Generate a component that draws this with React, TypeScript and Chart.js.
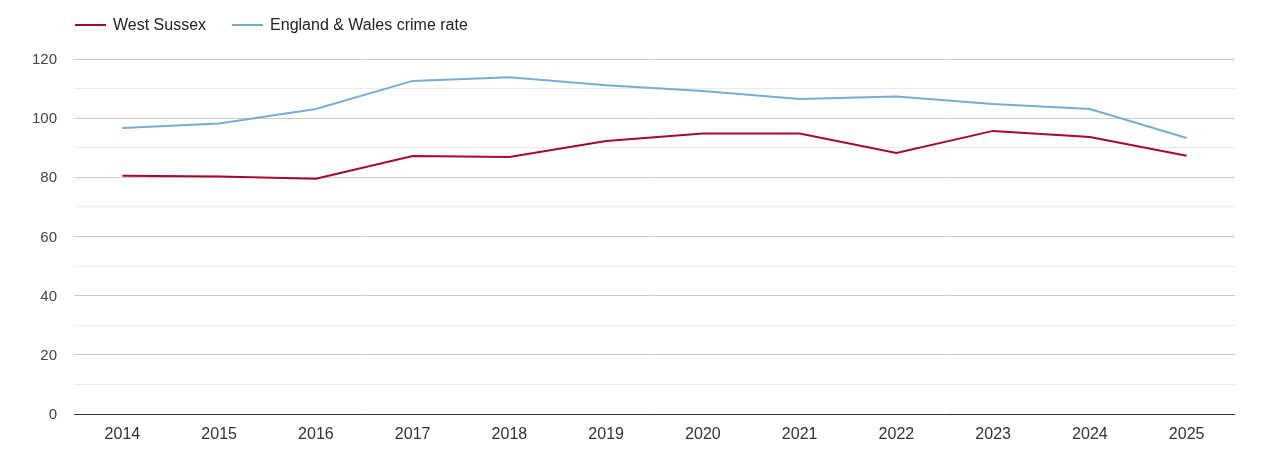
import React, { useEffect, useRef } from 'react';
import Chart from 'chart.js/auto';

const years = ['2014', '2015', '2016', '2017', '2018', '2019', '2020', '2021', '2022', '2023', '2024', '2025'];
const westSussex = [80.5, 80.3, 79.5, 87.2, 86.9, 92.3, 94.8, 94.8, 88.2, 95.7, 93.6, 87.3];
const englandWales = [96.7, 98.2, 103.1, 112.6, 113.8, 111.1, 109.2, 106.5, 107.3, 104.8, 103.1, 93.3];

const RED = '#a8072e';
const BLUE = '#74aed6';
const FONT = 'Arial, "Liberation Sans", sans-serif';

const seriesList = [
  { label: 'West Sussex', color: RED },
  { label: 'England & Wales crime rate', color: BLUE },
];

export default function App() {
  const chartRef = useRef<HTMLCanvasElement>(null);

  useEffect(() => {
    if (!chartRef.current) return;
    const chart = new Chart(chartRef.current, {
      type: 'line',
      data: {
        labels: years,
        datasets: [
          { label: 'West Sussex', data: westSussex, borderColor: RED, backgroundColor: RED, borderWidth: 2, pointRadius: 0, tension: 0, fill: false },
          { label: 'England & Wales crime rate', data: englandWales, borderColor: BLUE, backgroundColor: BLUE, borderWidth: 2, pointRadius: 0, tension: 0, fill: false },
        ],
      },
      options: {
        animation: false,
        responsive: true,
        maintainAspectRatio: false,
        layout: { padding: { top: 59, right: 35, left: 0, bottom: 0 } },
        plugins: {
          legend: { display: false },
          tooltip: { enabled: false },
        },
        scales: {
          x: {
            offset: true,
            grid: { display: false },
            border: { display: false },
            ticks: { color: '#333', font: { family: FONT, size: 16 }, padding: 3, maxRotation: 0 },
            afterFit: (scale: any) => { scale.height = 36; },
          },
          y: {
            min: 0,
            max: 120,
            border: { display: false },
            grid: {
              drawTicks: false,
              color: (ctx: any) => {
                const v = ctx.tick?.value;
                if (v === 0) return '#333';
                return v % 20 === 0 ? '#cccccc' : '#ebebeb';
              },
            },
            ticks: {
              stepSize: 10,
              color: '#444',
              padding: 17,
              labelOffset: 1,
              font: { family: FONT, size: 15 },
              callback: (value: any) => (Number(value) % 20 === 0 ? String(value) : ''),
            },
            afterFit: (scale: any) => { scale.width = 74; },
          },
        },
      },
    });
    return () => chart.destroy();
  }, []);

  return (
    <div style={{ position: 'absolute', left: 0, top: 0, width: 1270, height: 450, background: '#fff', fontFamily: FONT }}>
      <div style={{ position: 'absolute', left: 75, top: 16, display: 'flex', alignItems: 'center', fontSize: 16, color: '#222' }}>
        {seriesList.map((s, i) => (
          <div key={s.label} style={{ display: 'flex', alignItems: 'center', marginRight: i === 0 ? 26 : 0 }}>
            <span style={{ display: 'inline-block', width: 31, height: 2, background: s.color, marginRight: 7 }} />
            <span>{s.label}</span>
          </div>
        ))}
      </div>
      <canvas ref={chartRef} />
    </div>
  );
}
